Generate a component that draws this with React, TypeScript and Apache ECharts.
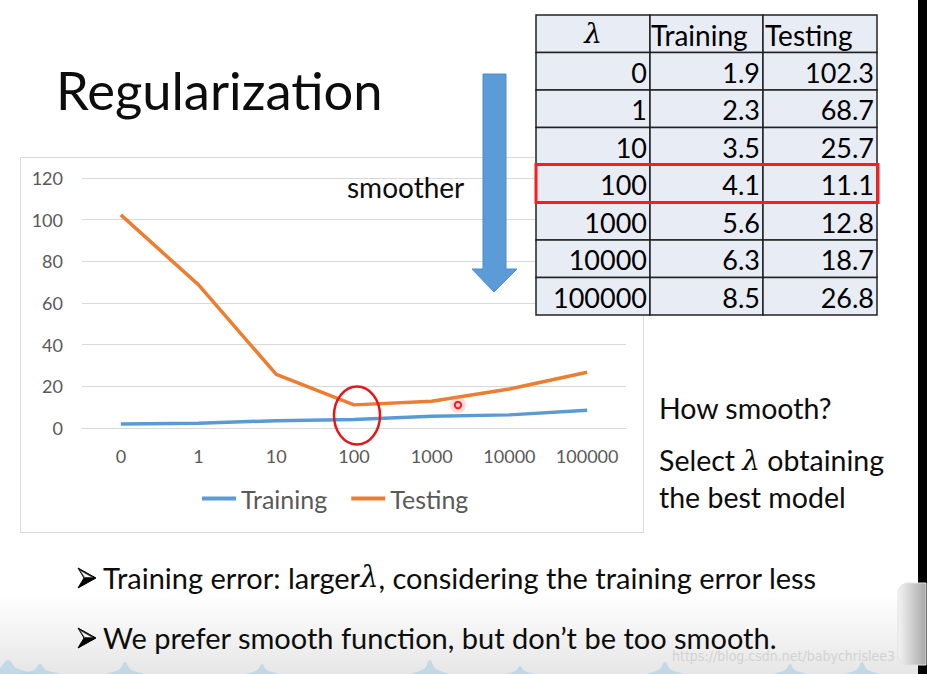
import React, { useEffect, useRef } from "react";
import * as echarts from "echarts";

const lambdas = ["0", "1", "10", "100", "1000", "10000", "100000"];
const training = [1.9, 2.3, 3.5, 4.1, 5.6, 6.3, 8.5];
const testing = [102.3, 68.7, 25.7, 11.1, 12.8, 18.7, 26.8];
const tableHeaders = ["λ", "Training", "Testing"];
const highlightLambda = "100";
const yMin = 0;
const yMax = 120;
const yInterval = 20;

const FONT = "Lato, 'Noto Sans', sans-serif";
const BLUE = "#5B9BD5";
const ORANGE = "#ED7D31";

function buildGraphics() {
  const g: any[] = [];
  // bottom gradient
  g.push({
    type: "rect",
    z: -20,
    shape: { x: 0, y: 595, width: 927, height: 79 },
    style: {
      fill: {
        type: "linear", x: 0, y: 0, x2: 0, y2: 1,
        colorStops: [
          { offset: 0, color: "#ffffff" },
          { offset: 1, color: "#e6e6e6" },
        ],
      },
    },
  });
  // light blue waveform bumps at bottom
  const bumps = [
    [8, 30, 14], [40, 20, 10], [125, 18, 12], [262, 16, 10], [430, 18, 14],
    [520, 14, 8], [665, 18, 12], [790, 16, 10], [862, 16, 12],
  ];
  bumps.forEach(([cx, w, h]) => {
    g.push({
      type: "polygon",
      z: -15,
      shape: {
        points: [[cx - w, 674], [cx - w * 0.3, 674 - h * 0.4], [cx, 674 - h], [cx + w * 0.3, 674 - h * 0.4], [cx + w, 674]],
        smooth: 0.4,
      },
      style: { fill: "rgba(160,205,228,0.55)" },
    });
  });
  // chart frame
  g.push({
    type: "rect",
    z: -10,
    shape: { x: 20.5, y: 157.5, width: 623, height: 375 },
    style: { fill: "rgba(0,0,0,0)", stroke: "#d9d9d9", lineWidth: 1 },
  });
  // title
  g.push({
    type: "text",
    z: 100,
    style: { text: "Regularization", x: 56, y: 89, fontSize: 52.5, fontFamily: FONT, fill: "#0d0d0d", verticalAlign: "middle" },
  });
  // smoother
  g.push({
    type: "text",
    z: 100,
    style: { text: "smoother", x: 347, y: 187, fontSize: 28, fontFamily: FONT, fill: "#0d0d0d", verticalAlign: "middle" },
  });
  // arrow
  g.push({
    type: "polygon",
    z: 100,
    shape: { points: [[483, 74], [506, 74], [506, 269], [517, 269], [494, 292], [472, 269], [483, 269]] },
    style: { fill: "#5B9BD8", stroke: "#4F8CC9", lineWidth: 1 },
  });
  // table
  const colX = [536, 650, 763, 877];
  const rowTop = 15;
  const rowH = 37.5;
  const nRows = lambdas.length + 1;
  for (let r = 0; r < nRows; r++) {
    for (let c = 0; c < 3; c++) {
      g.push({
        type: "rect",
        z: 110,
        shape: { x: colX[c], y: rowTop + r * rowH, width: colX[c + 1] - colX[c], height: rowH },
        style: { fill: "#e8ecf5", stroke: "#222", lineWidth: 1.5 },
      });
    }
  }
  // header texts
  g.push({
    type: "text", z: 120,
    style: { text: tableHeaders[0], x: (colX[0] + colX[1]) / 2, y: rowTop + rowH / 2, align: "center", verticalAlign: "middle", fontSize: 28, fontStyle: "italic", fontFamily: "'DejaVu Serif', serif", fill: "#000" },
  });
  g.push({
    type: "text", z: 120,
    style: { text: tableHeaders[1], x: colX[1] + 1, y: rowTop + rowH / 2 + 1, align: "left", verticalAlign: "middle", fontSize: 28, fontFamily: FONT, fill: "#000" },
  });
  g.push({
    type: "text", z: 120,
    style: { text: tableHeaders[2], x: colX[2] + 2, y: rowTop + rowH / 2 + 1, align: "left", verticalAlign: "middle", fontSize: 28, fontFamily: FONT, fill: "#000" },
  });
  lambdas.forEach((lam, i) => {
    const cy = rowTop + (i + 1) * rowH + rowH / 2 + 1;
    const vals = [lam, training[i].toFixed(1), testing[i].toFixed(1)];
    vals.forEach((v, c) => {
      g.push({
        type: "text", z: 120,
        style: { text: v, x: colX[c + 1] - 3, y: cy, align: "right", verticalAlign: "middle", fontSize: 27, fontFamily: FONT, fill: "#000" },
      });
    });
  });
  // highlight box
  const hi = lambdas.indexOf(highlightLambda) + 1;
  g.push({
    type: "rect", z: 130,
    shape: { x: colX[0], y: rowTop + hi * rowH - 0.5, width: colX[3] - colX[0] + 1, height: rowH + 0.5 },
    style: { fill: "rgba(0,0,0,0)", stroke: "#ff1c1c", lineWidth: 3 },
  });
  // red ellipse annotation
  g.push({
    type: "ellipse", z: 100,
    shape: { cx: 357, cy: 415.5, rx: 23, ry: 29 },
    style: { fill: "rgba(0,0,0,0)", stroke: "#e8141b", lineWidth: 2.5 },
  });
  // cursor dot
  g.push({ type: "circle", z: 100, shape: { cx: 458, cy: 405, r: 8 }, style: { fill: "rgba(255,140,140,0.3)" } });
  g.push({ type: "circle", z: 101, shape: { cx: 458, cy: 405, r: 3.2 }, style: { fill: "rgba(255,200,200,0.8)", stroke: "#ff1a1a", lineWidth: 2 } });
  // right text
  g.push({ type: "text", z: 100, style: { text: "How smooth?", x: 659, y: 408, fontSize: 28.5, fontFamily: FONT, fill: "#0d0d0d", verticalAlign: "middle" } });
  g.push({
    type: "text", z: 100,
    style: {
      text: "Select {l|λ} obtaining", x: 659, y: 460, fontSize: 28.5, fontFamily: FONT, fill: "#0d0d0d", verticalAlign: "middle",
      rich: { l: { fontSize: 28, fontStyle: "italic", fontFamily: "'DejaVu Serif', serif", fill: "#0d0d0d" } },
    },
  });
  g.push({ type: "text", z: 100, style: { text: "the best model", x: 659, y: 497, fontSize: 28.5, fontFamily: FONT, fill: "#0d0d0d", verticalAlign: "middle" } });
  // bullets
  const bullet = (cy: number) => {
    g.push({
      type: "polygon", z: 100,
      shape: { points: [[78, cy - 10], [96, cy], [78, cy + 10], [84, cy]] },
      style: { fill: "#000", stroke: "#000", lineWidth: 1 },
    });
    g.push({
      type: "polygon", z: 101,
      shape: { points: [[79.5, cy - 8], [93, cy - 0.5], [84.5, cy - 0.5]] },
      style: { fill: "#f2f2f2", stroke: "#333", lineWidth: 0.8 },
    });
  };
  bullet(578);
  bullet(638);
  g.push({
    type: "text", z: 100,
    style: {
      text: "Training error: larger{l|λ}, considering the training error less", x: 103, y: 577, fontSize: 29, fontFamily: FONT, fill: "#0d0d0d", verticalAlign: "middle",
      rich: { l: { fontSize: 29, fontStyle: "italic", fontFamily: "'DejaVu Serif', serif", fill: "#0d0d0d" } },
    },
  });
  g.push({
    type: "text", z: 100,
    style: { text: "We prefer smooth function, but don’t be too smooth.", x: 103, y: 637, fontSize: 29, fontFamily: FONT, fill: "#0d0d0d", verticalAlign: "middle" },
  });
  // watermark
  g.push({
    type: "text", z: 150,
    style: { text: "https://blog.csdn.net/babychrislee3", x: 672, y: 656, fontSize: 14, fontFamily: "'Liberation Sans Narrow', 'DejaVu Sans Condensed', sans-serif", fill: "#d2d2d2", verticalAlign: "middle" },
  });
  // right black strip and gray tab
  g.push({ type: "rect", z: 200, shape: { x: 918, y: 0, width: 9, height: 674 }, style: { fill: "#000" } });
  g.push({
    type: "rect", z: 210,
    shape: { x: 898, y: 583, width: 28, height: 82, r: [10, 0, 0, 10] },
    style: {
      fill: {
        type: "linear", x: 0, y: 0, x2: 1, y2: 0,
        colorStops: [{ offset: 0, color: "#f4f4f4" }, { offset: 1, color: "#a8a8a8" }],
      },
      stroke: "#e2e2e2", lineWidth: 1,
    },
  });
  return g;
}

export default function App() {
  const ref = useRef<HTMLDivElement>(null);
  useEffect(() => {
    if (!ref.current) return;
    const chart = echarts.init(ref.current, null, { renderer: "svg" });
    const option: any = {
      animation: false,
      backgroundColor: "#ffffff",
      grid: { left: 82, right: 301, top: 178, bottom: 246, containLabel: false },
      xAxis: {
        type: "category",
        data: lambdas,
        boundaryGap: true,
        axisLine: { show: true, lineStyle: { color: "#d9d9d9", width: 1 } },
        axisTick: { show: false },
        axisLabel: { color: "#595959", fontSize: 18, fontFamily: FONT, margin: 19, interval: 0 },
      },
      yAxis: {
        type: "value",
        min: yMin,
        max: yMax,
        interval: yInterval,
        axisLine: { show: false },
        axisTick: { show: false },
        axisLabel: { color: "#595959", fontSize: 18, fontFamily: FONT, margin: 19 },
        splitLine: { lineStyle: { color: "#d9d9d9", width: 1 } },
      },
      legend: {
        data: ["Training", "Testing"],
        left: 202,
        top: 486,
        padding: 0,
        icon: "rect",
        itemWidth: 34,
        itemHeight: 4,
        itemGap: 24,
        textStyle: { color: "#595959", fontSize: 25, fontFamily: FONT },
      },
      series: [
        { name: "Training", type: "line", data: training, symbol: "none", lineStyle: { color: BLUE, width: 3.5 }, itemStyle: { color: BLUE } },
        { name: "Testing", type: "line", data: testing, symbol: "none", lineStyle: { color: ORANGE, width: 3.5 }, itemStyle: { color: ORANGE } },
      ],
      graphic: { elements: buildGraphics() },
    };
    chart.setOption(option);
    return () => chart.dispose();
  }, []);
  return <div ref={ref} style={{ position: "fixed", left: 0, top: 0, width: 927, height: 674, background: "#fff" }} />;
}
